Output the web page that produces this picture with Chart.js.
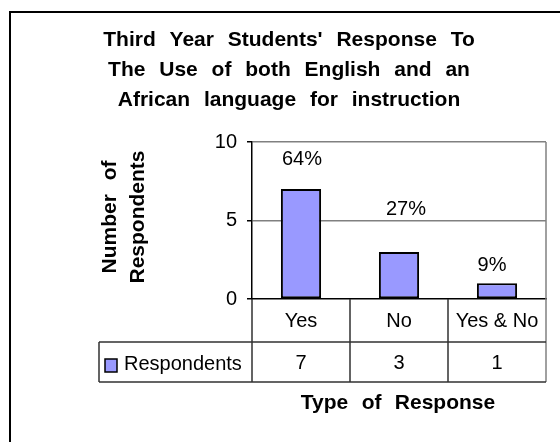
<!DOCTYPE html>
<html>
<head>
<meta charset="utf-8">
<script src="https://cdn.jsdelivr.net/npm/chart.js@4/dist/chart.umd.min.js"></script>
<style>
  html, body { margin: 0; padding: 0; background: #fff; }
  #wrap { width: 560px; height: 442px; }
</style>
</head>
<body>
<div id="wrap"><canvas id="chart" width="560" height="442"></canvas></div>
<script>
// Third year students' response chart (Excel style, with data table)

const categories = ["Yes", "No", "Yes & No"];
const respondents = [7, 3, 1];
const percentLabels = ["64%", "27%", "9%"];
const yTicks = [0, 5, 10];

const titleLines = [
  "Third Year Students' Response To",
  "The Use of both English and an",
  "African language for instruction",
];
const yTitleLines = ["Number of", "Respondents"];
const xTitle = "Type of Response";
const seriesName = "Respondents";

const FONT = "'Liberation Sans', Arial, sans-serif";
const BAR_COLOR = "#9999ff";
const GRID_GRAY = "#808080";
const TABLE_LINE = "#303030";

// bold text with the wide word gaps of the original
function drawSpaced(ctx, text, cx, cy, extra) {
  const words = text.split(" ");
  const space = ctx.measureText(" ").width + extra;
  const widths = words.map((w) => ctx.measureText(w).width);
  const total = widths.reduce((a, b) => a + b, 0) + space * (words.length - 1);
  let x = cx - total / 2;
  ctx.textAlign = "left";
  words.forEach((w, i) => {
    ctx.fillText(w, x, cy);
    x += widths[i] + space;
  });
}

function line(ctx, x1, y1, x2, y2) {
  ctx.beginPath();
  ctx.moveTo(x1, y1);
  ctx.lineTo(x2, y2);
  ctx.stroke();
}

const tablePlugin = {
  id: "tablePlugin",
  afterDraw(chart, args, opts) {
    const { ctx, chartArea } = chart;
    const x = chart.scales.x;
    const y = chart.scales.y;
    const rowTop = chartArea.bottom;
    const rowMid = 342;
    const rowBot = 382;
    const tableLeft = 99;

    ctx.save();

    // outer frame
    ctx.strokeStyle = "#000";
    ctx.lineWidth = 2;
    ctx.beginPath();
    ctx.moveTo(10, 442);
    ctx.lineTo(10, 12);
    ctx.lineTo(560, 12);
    ctx.stroke();

    // right edge of plot area
    ctx.strokeStyle = GRID_GRAY;
    ctx.lineWidth = 1.5;
    line(ctx, chartArea.right, chartArea.top, chartArea.right, rowBot);

    // data table
    ctx.strokeStyle = TABLE_LINE;
    ctx.lineWidth = 1.5;
    line(ctx, chartArea.left, rowTop, chartArea.left, rowBot);
    for (let i = 1; i < categories.length; i++) {
      const px = x.getPixelForValue(i - 0.5);
      line(ctx, px, rowTop, px, rowBot);
    }
    line(ctx, tableLeft, rowMid, chartArea.right, rowMid);
    line(ctx, tableLeft, rowBot, chartArea.right, rowBot);
    line(ctx, tableLeft, rowMid, tableLeft, rowBot);

    // legend key + values row
    ctx.fillStyle = BAR_COLOR;
    ctx.fillRect(105, 359, 12, 13);
    ctx.strokeStyle = "#000";
    ctx.lineWidth = 1.5;
    ctx.strokeRect(105, 359, 12, 13);

    ctx.fillStyle = "#000";
    ctx.font = "20px " + FONT;
    ctx.textBaseline = "middle";
    ctx.textAlign = "left";
    ctx.fillText(seriesName, 124, 364);
    ctx.textAlign = "center";
    respondents.forEach((v, i) => {
      ctx.fillText(String(v), x.getPixelForValue(i), 363);
    });

    // percentage labels above bars
    percentLabels.forEach((t, i) => {
      const px = x.getPixelForValue(i) + opts.dx[i];
      const py = y.getPixelForValue(respondents[i]) + opts.dy[i];
      ctx.fillText(t, px, py);
    });

    // titles
    ctx.font = "bold 21px " + FONT;
    titleLines.forEach((t, i) => drawSpaced(ctx, t, 289, 40 + i * 30, 8));
    drawSpaced(ctx, xTitle, 398, 403, 7.5);

    ctx.translate(124, 217);
    ctx.rotate(-Math.PI / 2);
    yTitleLines.forEach((t, i) => drawSpaced(ctx, t, 0, -14 + i * 28, 8));

    ctx.restore();
  },
};

new Chart(document.getElementById("chart"), {
  type: "bar",
  data: {
    labels: categories,
    datasets: [
      {
        label: seriesName,
        data: respondents,
        backgroundColor: BAR_COLOR,
        borderColor: "#000",
        borderWidth: 2,
        borderSkipped: false,
        categoryPercentage: 1,
        barPercentage: 0.41,
      },
    ],
  },
  options: {
    responsive: false,
    animation: false,
    devicePixelRatio: 1,
    layout: { padding: { top: 142, right: 14, bottom: 0, left: 0 } },
    plugins: {
      legend: { display: false },
      title: { display: false },
      tooltip: { enabled: false },
      tablePlugin: { dx: [1, 7, -5], dy: [-30, -42, -18] },
    },
    scales: {
      x: {
        afterFit: (s) => { s.height = 143; },
        grid: { display: false },
        border: { display: true, color: "#000", width: 1.5 },
        ticks: { color: "#000", font: { size: 20, family: FONT }, padding: 2, maxRotation: 0 },
      },
      y: {
        min: 0,
        max: 10,
        afterFit: (s) => { s.width = 252; },
        afterBuildTicks: (s) => { s.ticks = yTicks.map((v) => ({ value: v })); },
        grid: {
          color: (c) => (c.tick && c.tick.value === 0 ? "rgba(0,0,0,0)" : GRID_GRAY),
          lineWidth: 1.5,
          tickColor: "#000",
          tickLength: 5,
        },
        border: { color: "#000", width: 1.5 },
        ticks: { color: "#000", font: { size: 20, family: FONT }, padding: 10 },
      },
    },
  },
  plugins: [tablePlugin],
});
</script>
</body>
</html>
